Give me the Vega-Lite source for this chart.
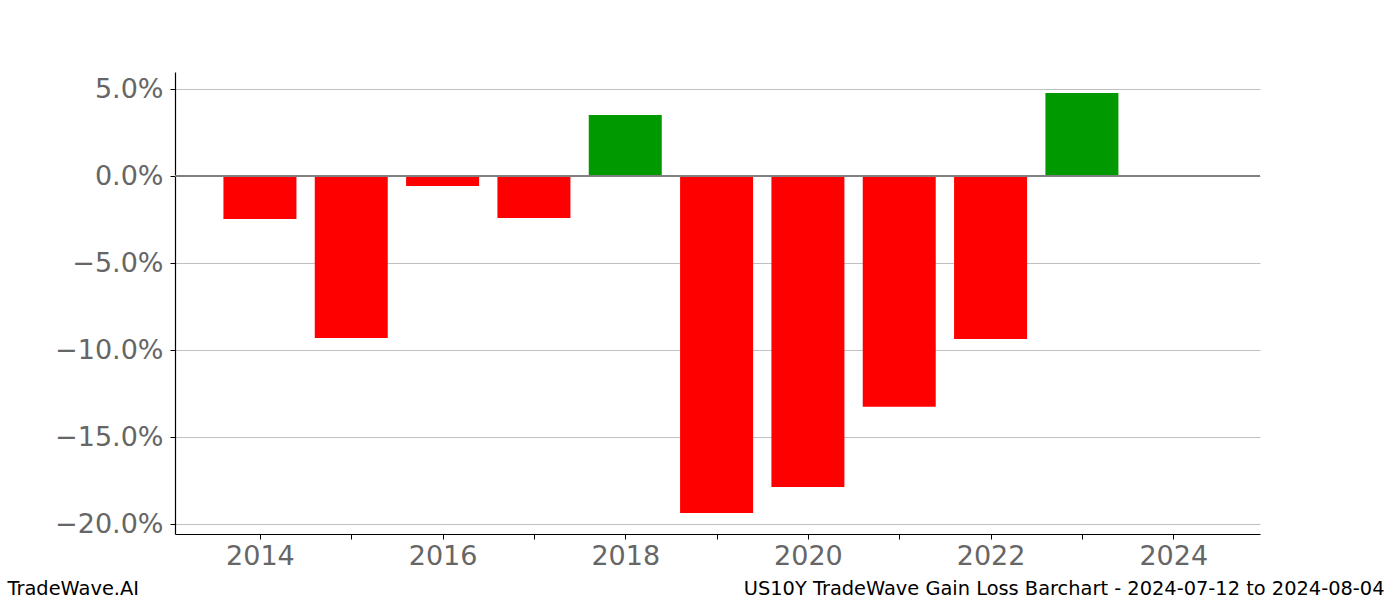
{
  "$schema": "https://vega.github.io/schema/vega-lite/v6.json",
  "autosize": "none",
  "width": 1085,
  "height": 462,
  "padding": {"left": 175, "top": 72, "right": 140, "bottom": 66},
  "background": "white",
  "config": {
    "view": {"stroke": null},
    "font": "DejaVu Sans"
  },
  "data": {
    "values": [
      {"year": 2014, "value": -0.0247},
      {"year": 2015, "value": -0.0931},
      {"year": 2016, "value": -0.0057},
      {"year": 2017, "value": -0.0241},
      {"year": 2018, "value": 0.0351},
      {"year": 2019, "value": -0.1936},
      {"year": 2020, "value": -0.1787},
      {"year": 2021, "value": -0.1326},
      {"year": 2022, "value": -0.0937},
      {"year": 2023, "value": 0.0477},
      {"year": 2024, "value": 0.0}
    ]
  },
  "encoding": {
    "x": {
      "field": "year",
      "type": "quantitative",
      "scale": {"domain": [2013.07, 2024.95], "nice": false, "zero": false, "padding": 0},
      "axis": {
        "values": [2014, 2015, 2016, 2017, 2018, 2019, 2020, 2021, 2022, 2023, 2024],
        "format": "d",
        "labelExpr": "datum.value % 2 == 0 ? datum.label : ''",
        "grid": false,
        "domainColor": "black",
        "domainWidth": 1.2,
        "tickColor": "black",
        "tickSize": 5,
        "tickWidth": 1,
        "labelFontSize": 27,
        "labelColor": "#666666",
        "labelPadding": 4,
        "labelFont": "DejaVu Sans",
        "title": "TradeWave.AI",
        "titleX": -168,
        "titleY": 60,
        "titleAlign": "left",
        "titleBaseline": "alphabetic",
        "titleFontSize": 19.4,
        "titleFontWeight": "normal",
        "titleColor": "black",
        "titleFont": "DejaVu Sans"
      }
    },
    "y": {
      "field": "value",
      "type": "quantitative",
      "scale": {"domain": [-0.2057, 0.0598], "nice": false, "zero": false},
      "axis": {
        "values": [0.05, 0, -0.05, -0.1, -0.15, -0.2],
        "labelExpr": "replace(format(datum.value, '.1%'), '-', '\u2212')",
        "grid": true,
        "gridColor": "#c0c0c0",
        "gridWidth": 1,
        "domainColor": "black",
        "domainWidth": 1.2,
        "tickColor": "black",
        "tickSize": 5,
        "labelFontSize": 27,
        "labelColor": "#666666",
        "labelPadding": 7,
        "labelFont": "DejaVu Sans",
        "title": "US10Y TradeWave Gain Loss Barchart - 2024-07-12 to 2024-08-04",
        "titleAngle": 0,
        "titleX": 1209,
        "titleY": 522,
        "titleAlign": "right",
        "titleBaseline": "alphabetic",
        "titleFontSize": 19.4,
        "titleFontWeight": "normal",
        "titleColor": "black",
        "titleFont": "DejaVu Sans"
      }
    }
  },
  "layer": [
    {
      "mark": {"type": "bar", "width": 73, "cornerRadius": 0},
      "transform": [
        {"filter": "datum.value != 0"}
      ],
      "encoding": {
        "y2": {"datum": 0},
        "color": {
          "condition": {"test": "datum.value > 0", "value": "#009900"},
          "value": "#ff0000"
        }
      }
    },
    {
      "mark": {"type": "rule", "color": "#808080", "strokeWidth": 1.2},
      "encoding": {
        "x": null,
        "y": {"datum": 0}
      }
    }
  ]
}
